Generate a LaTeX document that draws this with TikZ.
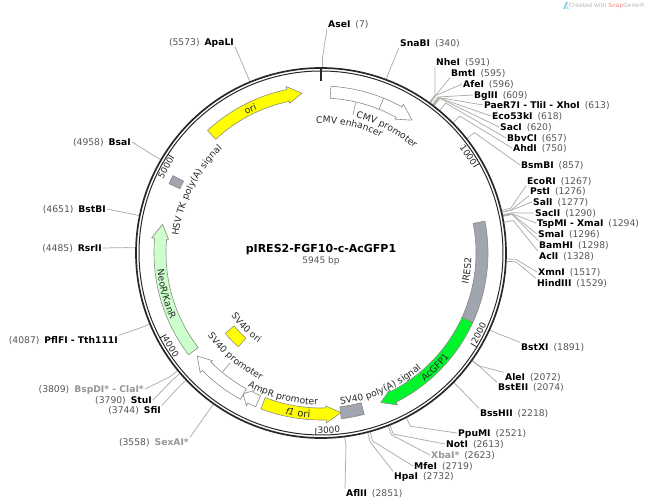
\documentclass[tikz,border=0pt]{standalone}
\usepackage{fontspec}
\setmainfont{DejaVu Sans}
\usetikzlibrary{calc,decorations.text}
\definecolor{mapblk}  {RGB}{40,40,40}
\definecolor{mapgray} {RGB}{150,150,150}
\definecolor{mapnum}  {RGB}{85,85,85}
\definecolor{mapline} {RGB}{172,172,168}
\definecolor{mapedge} {RGB}{140,140,130}
\definecolor{mapyel}  {RGB}{255,255,0}
\definecolor{mapgrn}  {RGB}{0,245,45}
\definecolor{mapneo}  {RGB}{204,255,204}
\definecolor{mapblock}{RGB}{160,165,175}
\definecolor{mapsnap} {RGB}{240,130,130}
\definecolor{mapicon} {RGB}{130,205,235}
\newcommand\flab{\fontsize{9.2}{11}\selectfont}
\tikzset{
  site/.style={inner sep=1pt,text height=7pt,text depth=0pt,
               font=\fontsize{9.2}{11}\selectfont},
  siteline/.style={mapline,line width=0.75pt},
  feat/.style={draw=mapedge,line width=0.6pt},
  tickline/.style={mapblk,line width=0.8pt},
  ticklab/.style={inner sep=0pt,font=\fontsize{8.8}{10}\selectfont,text=mapblk},
  arclab/.style={decorate,decoration={text along path,text align=center,text color=mapblk,text={|\flab|#1}}},
}
% arrow on the feature ring: tail, base of head, tip, fill
\newcommand\feature[4]{%
  \draw[feat,fill=#4] (#1:167) arc[start angle=#1,end angle=#2,radius=167]
    -- (#2:170) -- (#3:161) -- (#2:153) -- (#2:155)
    arc[start angle=#2,end angle=#1,radius=155] -- cycle;}
% block on a ring: from, to, inner radius, outer radius, fill
\newcommand\block[5]{%
  \draw[feat,fill=#5] (#1:#4) arc[start angle=#1,end angle=#2,radius=#4]
    -- (#2:#3) arc[start angle=#2,end angle=#1,radius=#3] -- cycle;}
% curved labels: centre angle, baseline radius, text
\newcommand\cwlabel[3]{%
  \pgfmathsetmacro\afrom{#1+38}\pgfmathsetmacro\ato{#1-38}
  \path[arclab={#3}] (\afrom:#2) arc[start angle=\afrom,end angle=\ato,radius=#2];}
\newcommand\ccwlabel[3]{%
  \pgfmathsetmacro\afrom{#1-38}\pgfmathsetmacro\ato{#1+38}
  \path[arclab={#3}] (\afrom:#2) arc[start angle=\afrom,end angle=\ato,radius=#2];}

\begin{document}
\begin{tikzpicture}[x=1pt,y=1pt]
  \useasboundingbox (0,0) rectangle (649,504);
  \coordinate (c) at (321,251);

  % right hand sites: bp / left edge / y / leader anchor / colour / name
  \foreach \bp/\lx/\ly/\anc/\col/\nm in {
    7/327/480/south west/black/AseI,
    340/399/461/south west/black/SnaBI,
    591/435/442/south west/black/NheI,
    595/450/431/south west/black/BmtI,
    596/462/420/west/black/AfeI,
    609/473/409/west/black/BglII,
    613/483/399/west/black/PaeR7I - TliI - XhoI,
    618/491/388/west/black/Eco53kI,
    620/499/377/west/black/SacI,
    657/506/366/west/black/BbvCI,
    750/512/356/west/black/AhdI,
    857/520/339/west/black/BsmBI,
    1267/526/323/south west/black/EcoRI,
    1276/529/313/south west/black/PstI,
    1277/532/302/west/black/SalI,
    1290/534/291/west/black/SacII,
    1294/536/281/west/black/TspMI - XmaI,
    1296/537/270/west/black/SmaI,
    1298/538/259/north west/black/BamHI,
    1328/538/248/north west/black/AclI,
    1517/537/232/west/black/XmnI,
    1529/536/221/north west/black/HindIII,
    1891/520/157/north west/black/BstXI,
    2072/504/127/north west/black/AleI,
    2074/497/117/north west/black/BstEII,
    2218/479/91/north west/black/BssHII,
    2521/457/71/west/black/PpuMI,
    2613/445/60/west/black/NotI,
    2623/430/49/west/mapgray/XbaI*,
    2719/413/38/west/black/MfeI,
    2732/393/28/north west/black/HpaI,
    2851/345/11/north west/black/AflII}{
    \pgfmathsetmacro\ang{90-\bp/5945*360}
    \node[site,anchor=west] (lb\bp) at (\lx,\ly) {\textcolor{\col}{\textbf{\nm}}\hspace{5pt}\textcolor{mapnum}{(\bp)}};
    \coordinate (rg\bp) at ($(c)+(\ang:185)$);
    \coordinate (el\bp) at ($(c)+(\ang:195)$);
    \draw[siteline] (rg\bp) -- (el\bp) -- (lb\bp.\anc);
  }
  % left hand sites: bp / right edge / y / leader anchor / colour / name
  \foreach \bp/\lx/\ly/\anc/\col/\nm in {
    5573/235/462/south east/black/ApaLI,
    4958/132/362/east/black/BsaI,
    4651/107/295/east/black/BstBI,
    4485/103/256/east/black/RsrII,
    4087/119/164/north east/black/PflFI - Tth111I,
    3809/145/115/east/mapgray/BspDI* - ClaI*,
    3790/153/104/east/black/StuI,
    3744/162/94/north east/black/SfiI,
    3558/190/62/north east/mapgray/SexAI*}{
    \pgfmathsetmacro\ang{90-\bp/5945*360}
    \node[site,anchor=east] (lb\bp) at (\lx,\ly) {\textcolor{mapnum}{(\bp)}\hspace{5pt}\textcolor{\col}{\textbf{\nm}}};
    \coordinate (rg\bp) at ($(c)+(\ang:185)$);
    \coordinate (el\bp) at ($(c)+(\ang:195)$);
    \draw[siteline] (rg\bp) -- (el\bp) -- (lb\bp.\anc);
  }

  \begin{scope}[shift={(c)}]
    % backbone
    \draw[mapblk,line width=1.7pt] (0,0) circle (185);
    \draw[mapblk,line width=1pt] (0,0) circle (182);
    \draw[mapblk,line width=1.3pt] (90:172) -- (90:185);
    \foreach \pos/\rot in {1000/-90,2000/90,3000/90,4000/90,5000/-90}{
      \pgfmathsetmacro\ang{90-\pos/5945*360}
      \pgfmathsetmacro\mid{\ang+4.2}
      \pgfmathsetmacro\tilt{\mid+\rot}
      \draw[tickline] (\ang:175) -- (\ang:182);
      \node[ticklab,rotate=\tilt] (t\pos) at (\mid:177) {\pos};
    }
    % features
    \feature{132.8}{101.8}{96.8}{mapyel}
    \feature{86.6}{61}{55.6}{white}
    \draw[feat] (68:155) -- (68:167);
    \block{11}{-24.6}{155}{167}{mapblock}
    \feature{-24.6}{-63.3}{-68.2}{mapgrn}
    \block{-83}{-75}{155}{167}{mapblock}
    \feature{-111.1}{-88.2}{-82.9}{mapyel}
    \feature{-113}{-116}{-119}{white}
    \feature{-118.8}{-135.3}{-140.2}{white}
    \feature{217.6}{174.9}{169.7}{mapneo}
    \block{155.5}{152.4}{155}{167}{mapblock}
    \block{-140}{-131.4}{113.5}{125}{mapyel}
    \draw[feat] (77:154) -- (77:142);
    \draw[feat] (230.4:154) -- (230.4:143);
    % feature names
    \cwlabel{116.2}{157}{ori}
    \cwlabel{62}{140}{CMV promoter}
    \cwlabel{77.4}{130}{CMV enhancer}
    \cwlabel{153.3}{143.5}{HSV TK poly(A) signal}
    \ccwlabel{-6.9}{150.5}{IRES2}
    \ccwlabel{-45}{165}{AcGFP1}
    \ccwlabel{-65.8}{153}{SV40 poly(A) signal}
    \ccwlabel{-98.2}{165}{|\flab\itshape|f1|| ori}
    \ccwlabel{255}{152}{AmpR promoter}
    \ccwlabel{230.4}{140.5}{SV40 promoter}
    \ccwlabel{225}{109.5}{SV40 ori}
    \ccwlabel{194.8}{164.5}{NeoR/KanR}
  \end{scope}

  \node[inner sep=0pt,font=\fontsize{11}{13}\selectfont\bfseries] (title) at (321,254) {pIRES2-FGF10-c-AcGFP1};
  \node[inner sep=0pt,font=\fontsize{9}{11}\selectfont,text=mapnum] (size) at (321,243) {5945 bp};

  \fill[mapicon] (563,495) -- (566,502) -- (568,502) -- (565,495) -- cycle;
  \fill[mapicon!60] (566,495) -- (567.5,498.5) -- (569,495) -- cycle;
  \node[anchor=east,inner sep=0pt,font=\fontsize{5.9}{8}\selectfont,text=mapgray!70] (mark) at (645,498)
    {Created with \textcolor{mapsnap}{Snap}Gene®};
\end{tikzpicture}
\end{document}
